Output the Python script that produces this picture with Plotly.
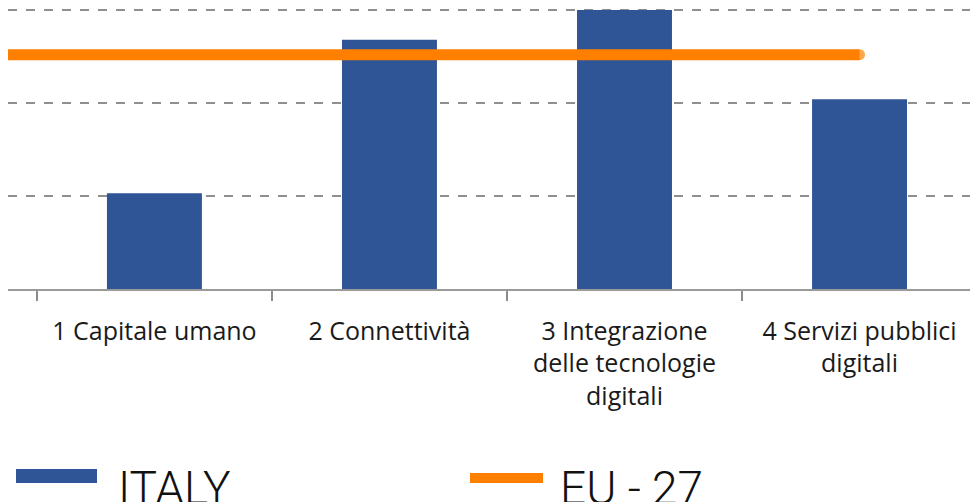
import plotly.graph_objects as go

categories = ["1 Capitale umano", "2 Connettività", "3 Integrazione<br>delle tecnologie<br>digitali", "4 Servizi pubblici<br>digitali"]
italy = [10.3, 26.8, 30.0, 20.4]
eu27 = 25.2
grid_vals = [10, 20, 30]

PLOT_L, PLOT_R, PLOT_B = 8, 970, 289
W, H = 970, 502
x_lo, x_hi = -0.623, 3.47
y_hi = 30 + 10 / 9.3

fig = go.Figure()
fig.add_trace(go.Bar(x=categories, y=italy, marker=dict(color="#2F5597", line=dict(width=0)),
                     width=0.404, name="ITALY", showlegend=False))
idx = list(range(len(categories)))
eu_x = [x_lo] + idx
fig.add_trace(go.Scatter(x=eu_x, y=[eu27] * len(eu_x), xaxis="x2", mode="lines+markers",
                         line=dict(color="#FF8000", width=11),
                         marker=dict(color="#FF8000", size=[0] * (len(eu_x) - 1) + [11], line=dict(width=0)),
                         name="EU - 27", showlegend=False))

fig.update_layout(
    width=W, height=H,
    margin=dict(l=PLOT_L, r=W - PLOT_R, t=0, b=H - PLOT_B),
    paper_bgcolor="white", plot_bgcolor="white",
    bargap=0.6,
    xaxis=dict(type="category", range=[x_lo, x_hi], tickson="boundaries", ticks="outside",
               ticklen=10, tickcolor="#8c8c8c", tickwidth=1.5, showgrid=False,
               showline=True, linecolor="#9a9a9a", linewidth=1.5,
               tickfont=dict(family="Open Sans", size=25, color="#1a1a1a"),
               ticklabelstandoff=19),
    xaxis2=dict(overlaying="x", range=[x_lo, x_hi], visible=False),
    yaxis=dict(range=[0, y_hi], tickvals=grid_vals, showticklabels=False, showgrid=True,
               gridcolor="#8f8f8f", griddash="dash", gridwidth=1.5, zeroline=False,
               showline=False, ticks=""),
    showlegend=False,
)

def px_to_paper_x(px):
    return (px - PLOT_L) / (PLOT_R - PLOT_L)

def py_to_paper_y(py):
    return (PLOT_B - py) / PLOT_B

# legend
fig.add_shape(type="rect", xref="paper", yref="paper",
              x0=px_to_paper_x(16), x1=px_to_paper_x(97), y0=py_to_paper_y(483), y1=py_to_paper_y(469),
              fillcolor="#2F5597", line=dict(width=0))
fig.add_shape(type="line", xref="paper", yref="paper",
              x0=px_to_paper_x(470), x1=px_to_paper_x(543), y0=py_to_paper_y(478), y1=py_to_paper_y(478),
              line=dict(color="#FF8000", width=10))
legend_font = dict(family="Roboto", size=46, color="#111111", weight=300)
fig.add_annotation(text="ITALY", xref="paper", yref="paper", x=px_to_paper_x(116), y=py_to_paper_y(459),
                   xanchor="left", yanchor="top", showarrow=False, font=legend_font)
fig.add_annotation(text="EU - 27", xref="paper", yref="paper", x=px_to_paper_x(558), y=py_to_paper_y(459),
                   xanchor="left", yanchor="top", showarrow=False, font=legend_font)

fig.write_html("out.html", config={"displayModeBar": False},
               post_script="document.body.style.margin='0';document.body.style.overflow='hidden';")
